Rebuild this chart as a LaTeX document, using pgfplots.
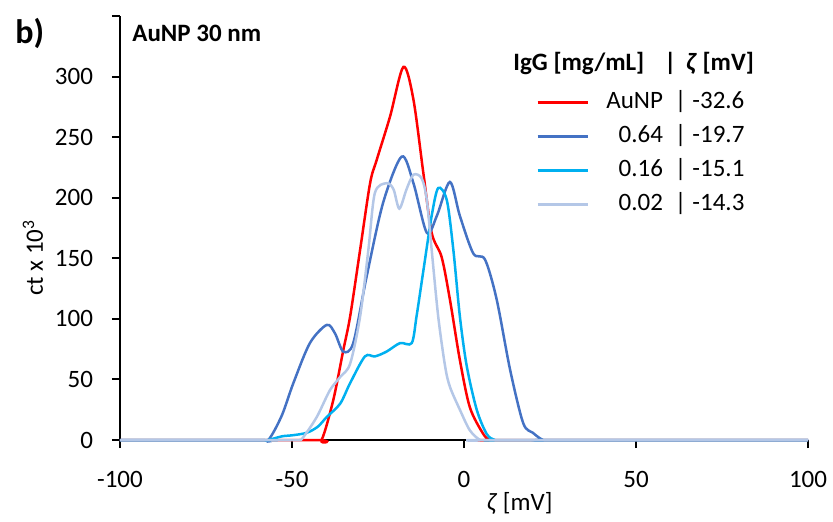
\documentclass[border=0pt]{standalone}
\usepackage{fontspec}
\setmainfont{Carlito}
\usepackage{pgfplots}
\pgfplotsset{compat=1.18}

\definecolor{aured}{RGB}{255,0,0}
\definecolor{darkblue}{RGB}{68,114,196}
\definecolor{cyanb}{RGB}{0,176,240}
\definecolor{lightb}{RGB}{180,199,231}

\newcommand{\ent}[2]{\makebox[28.5pt][r]{#1}\hspace{6pt}|\hspace{3pt}#2}

\begin{document}
\begin{tikzpicture}[font=\fontsize{12.5}{15}\selectfont]
 \begin{axis}[
 name=ax,
 scale only axis,
 width=344pt, height=212pt,
 xmin=-100, xmax=100,
 ymin=0, ymax=350,
 axis lines=left,
 axis line style={line width=1pt, -},
 xtick={-100,-50,0,50,100},
 ytick={0,50,100,150,200,250,300,350},
 yticklabels={0,50,100,150,200,250,300,},
 tick align=outside,
 major tick length=4pt,
 tick style={line width=1pt, black},
 /pgf/number format/assume math mode=true,
 xticklabel style={yshift=-8pt},
 yticklabel style={xshift=-6pt},
 xlabel={\textit{ζ} [mV]},
 x label style={at={(axis description cs:0.581,0)}, anchor=center, yshift=-31.5pt},
 ylabel={ct x 10\textsuperscript{3}},
 y label style={at={(axis description cs:-0.1265,0.43)}, anchor=center},
 legend style={at={(axis description cs:0.596,0.835)}, anchor=north west,
   draw=none, fill=none, row sep=5pt,
   nodes={inner sep=0pt, text height=9pt, text depth=3pt},
   /tikz/every odd column/.append style={column sep=8.5pt}},
 legend cell align=left,
 legend image code/.code={\draw[#1] (0pt,0pt) -- (25pt,0pt);},
 clip=false,
 ]

 % AuNP
 \addplot[aured, line width=1.25pt, smooth, tension=0.5] coordinates {
 (-100,0)(-44,0)(-41.4,0)(-38,33)(-35.1,74)(-33.1,102)(-30.2,157)(-27.3,212)
 (-25.4,231)(-21.5,267)(-17.6,308)(-14.7,281)(-11.8,220)(-9.4,171)(-6.5,151)
 (-4.1,116)(-1.2,66)(1.7,27)(5.6,5)(7.6,0)(10,0)(100,0)
 };
 \addlegendentry{\ent{AuNP}{-32.6}}

 % 0.64
 \addplot[darkblue, line width=1.25pt, smooth, tension=0.5] coordinates {
 (-100,0)(-60,0)(-56.9,0)(-53,20)(-49.6,47)(-44.8,80)(-39.9,95)(-37.5,88)
 (-35.1,73)(-32.2,80)(-28.3,135)(-23.5,196)(-18.1,234)(-14.7,212)(-10.8,171)
 (-7.9,185)(-4.1,213)(-1.2,185)(2.7,154)(6.1,149)(9.5,116)(13.4,58)(17.2,14)
 (20,6)(23,0)(26,0)(100,0)
 };
 \addlegendentry{\ent{0.64}{-19.7}}

 % 0.16
 \addplot[cyanb, line width=1.25pt, smooth, tension=0.5] coordinates {
 (-100,0)(-60,0)(-57,0)(-53,3)(-49.6,4)(-45.7,6)(-42.5,11)(-39.9,19)(-36,30)
 (-33.1,47)(-28.8,69)(-25.9,69)(-22.5,73)(-18.6,80)(-15.2,80)(-13.8,102)
 (-11.8,140)(-9.4,185)(-7.5,208)(-5,198)(-3.1,157)(-1.2,102)(0.8,61)(3.7,25)
 (6.6,5)(9,0)(12,0)(100,0)
 };
 \addlegendentry{\ent{0.16}{-15.1}}

 % 0.02
 \addplot[lightb, line width=1.25pt, smooth, tension=0.5] coordinates {
 (-100,0)(-52,0)(-48,0)(-46.8,2)(-42.8,19)(-39,41)(-36,52)(-33.1,63)(-30.2,102)
 (-27.8,157)(-25.9,204)(-22.5,212)(-20.5,207)(-18.8,191)(-16.7,207)(-14.7,219)
 (-12.3,216)(-10.8,198)(-9.4,157)(-7.5,102)(-5.5,61)(-4.1,44)(-1.2,25)(1.7,8)
 (4.7,0)(7,0)(100,0)
 };
 \addlegendentry{\ent{0.02}{-14.3}}

 \coordinate (O) at (rel axis cs:0,0);
 \end{axis}

 \node[anchor=west, inner sep=0pt] at ([shift={(6pt,203.25pt)}]O) {\textbf{AuNP 30 nm}};
 \node[anchor=west, inner sep=0pt, font=\fontsize{17}{20}\selectfont\bfseries] at ([shift={(-52.5pt,203.5pt)}]O) {b)};
 \node[anchor=west, inner sep=0pt] at ([shift={(196.5pt,188.5pt)}]O) {\textbf{IgG [mg/mL]\hspace{10pt}|\hspace{5pt}\textit{ζ} [mV]}};

 \pgfresetboundingbox
 \path (O) ++(-60pt,-40.5pt) rectangle ++(416.5pt,260.5pt);
\end{tikzpicture}
\end{document}
